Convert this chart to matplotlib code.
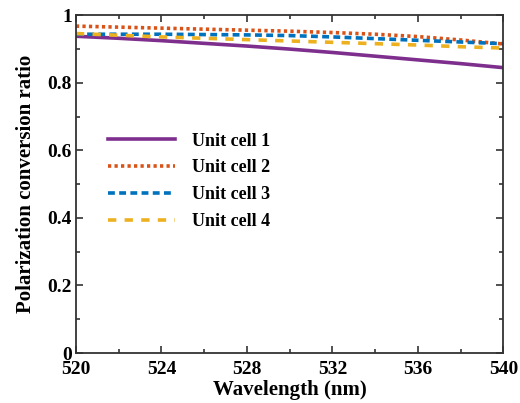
import numpy as np
import matplotlib
matplotlib.use("Agg")
import matplotlib.pyplot as plt
from matplotlib.ticker import MultipleLocator

plt.rcParams['font.family'] = ['Liberation Serif', 'DejaVu Serif']
plt.rcParams['font.weight'] = 'bold'

wavelength = [520, 522, 524, 526, 528, 530, 532, 534, 536, 538, 540]
cell1 = [0.938, 0.932, 0.925, 0.917, 0.909, 0.900, 0.890, 0.879, 0.868, 0.857, 0.845]
cell2 = [0.968, 0.965, 0.962, 0.959, 0.956, 0.953, 0.949, 0.944, 0.937, 0.927, 0.915]
cell3 = [0.944, 0.944, 0.944, 0.943, 0.942, 0.940, 0.936, 0.931, 0.926, 0.921, 0.916]
cell4 = [0.946, 0.941, 0.936, 0.932, 0.928, 0.924, 0.920, 0.916, 0.912, 0.907, 0.903]
labels = ['Unit cell 1', 'Unit cell 2', 'Unit cell 3', 'Unit cell 4']

fig = plt.figure(figsize=(5.2, 4.03), dpi=100)
ax = fig.add_axes([0.146, 0.124, 0.822, 0.838])

ax.plot(wavelength, cell1, color='#7E2F8E', lw=2.6, ls='-', label=labels[0])
ax.plot(wavelength, cell2, color='#D95319', lw=2.6, ls=(0, (0.9, 0.9)), label=labels[1])
ax.plot(wavelength, cell3, color='#0072BD', lw=2.6, ls=(0, (1.9, 1.2)), label=labels[2])
ax.plot(wavelength, cell4, color='#EDB120', lw=2.6, ls=(0, (2.3, 2.3)), label=labels[3])

ax.set_xlim(520, 540)
ax.set_ylim(0, 1)
ax.xaxis.set_major_locator(MultipleLocator(4))
ax.xaxis.set_minor_locator(MultipleLocator(2))
ax.yaxis.set_minor_locator(MultipleLocator(0.1))
ax.set_yticks([0, 0.2, 0.4, 0.6, 0.8, 1])
ax.set_yticklabels(['0', '0.2', '0.4', '0.6', '0.8', '1'])
ax.tick_params(which='both', direction='in', top=True, right=True, labelsize=14, width=1.2,
               colors='#333333', labelcolor='black')
ax.tick_params(axis='x', pad=6)
ax.tick_params(axis='y', pad=3)
ax.tick_params(which='major', length=5)
ax.tick_params(which='minor', length=3)
for s in ax.spines.values():
    s.set_linewidth(1.3)
    s.set_color('#333333')

ax.set_xlabel('Wavelength (nm)', fontsize=15, fontweight='bold', labelpad=1)
ax.set_ylabel('Polarization conversion ratio', fontsize=15, fontweight='bold', labelpad=8)

ax.legend(loc='upper left', bbox_to_anchor=(0.075, 0.653), frameon=False, fontsize=13,
          handlelength=3.7, handletextpad=0.95, labelspacing=0.55,
          borderpad=0, borderaxespad=0)

fig.savefig('out.png', dpi=100)
